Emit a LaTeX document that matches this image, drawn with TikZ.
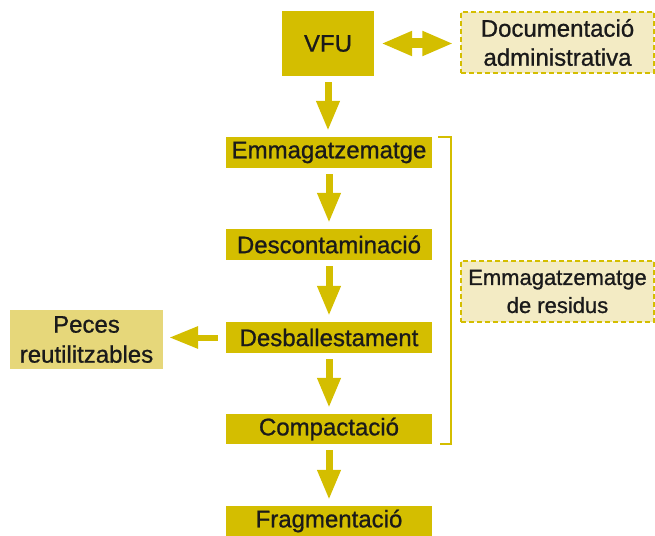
\documentclass[tikz,border=0pt]{standalone}
\usepackage{fontspec}
\setmainfont{Liberation Sans}[FakeBold=0.9]
\usetikzlibrary{arrows.meta}
\definecolor{gold}{RGB}{212,190,0}
\definecolor{lightgold}{RGB}{230,215,122}
\definecolor{palegold}{RGB}{243,235,196}
\definecolor{ink}{RGB}{26,26,26}
\begin{document}
\begin{tikzpicture}[x=1pt,y=-1pt,
  stepbox/.style={fill=gold,draw=none,inner sep=0pt,minimum width=206pt,minimum height=31pt,
    text=ink,font=\fontsize{24}{29}\selectfont},
  sidebox/.style={fill=lightgold,draw=none,inner sep=0pt,align=center,text=ink,
    font=\fontsize{24}{30}\selectfont},
  notebox/.style={fill=palegold,draw=gold,dashed,dash pattern=on 5pt off 3pt,line width=1.5pt,
    inner sep=0pt,align=center,text=ink},
  flow/.style={draw=gold,line width=7pt,-{Triangle[width=22pt,length=30pt]},
    shorten <=6pt,shorten >=6pt},
  sideflow/.style={draw=gold,line width=6pt,-{Triangle[width=21pt,length=29pt]},
    shorten <=8pt,shorten >=6pt},
  dblflow/.style={draw=gold,line width=10pt,
    {Triangle[width=23pt,length=31pt]}-{Triangle[width=23pt,length=31pt]},
    shorten <=7pt,shorten >=7pt},
  bracket/.style={draw=gold,line width=2pt}
]
\useasboundingbox (0,0) rectangle (655,535);
\node[stepbox,minimum width=92pt,minimum height=65pt] (vfu) at (328,43.5) {VFU};
\node[notebox,minimum width=193pt,minimum height=61pt,font=\fontsize{24}{29}\selectfont] (doc) at (557.5,42.5) {Documentació\\administrativa};
\node[stepbox] (emm) at (329,152.5) {Emmagatzematge};
\node[stepbox] (desc) at (329,244.5) {Descontaminació};
\node[stepbox] (desb) at (329,337.5) {Desballestament};
\node[sidebox,minimum width=153pt,minimum height=59pt] (peces) at (86.5,339.5) {Peces\\reutilitzables};
\node[stepbox,minimum height=30pt] (comp) at (329,429) {Compactació};
\node[stepbox,minimum height=30pt] (frag) at (329,521) {Fragmentació};
\node[notebox,minimum width=193pt,minimum height=61pt,font=\fontsize{22}{28}\selectfont] (res) at (557.5,291.5) {Emmagatzematge\\de residus};

\draw[flow] (vfu.south) -- (vfu.south |- emm.north);
\draw[flow] (emm.south) -- (desc.north);
\draw[flow] (desc.south) -- (desb.north);
\draw[flow] (desb.south) -- (comp.north);
\draw[flow] (comp.south) -- (frag.north);
\draw[sideflow] (desb.west) -- (desb.west -| peces.east);
\draw[dblflow] (vfu.east) -- (vfu.east -| doc.west);

\coordinate (bt) at ([xshift=6pt]emm.north east);
\coordinate (bb) at ([xshift=8pt]comp.south east);
\draw[bracket] (bt) -- ++(13,0) |- (bb);
\end{tikzpicture}
\end{document}
